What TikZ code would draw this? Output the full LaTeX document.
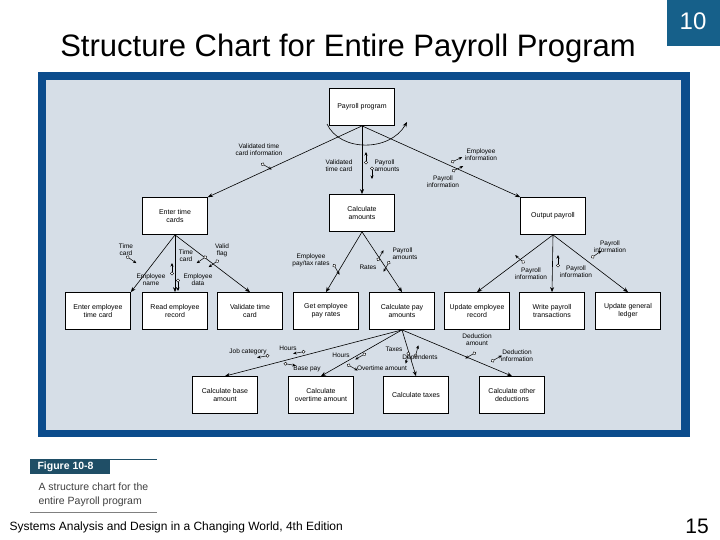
\documentclass[tikz,border=0pt]{standalone}
\usepackage{fontspec}
\setmainfont{Liberation Sans}
\usetikzlibrary{arrows.meta}
\definecolor{panel}{HTML}{D6DEE7}
\definecolor{frame}{HTML}{0B4C8C}
\definecolor{teal}{HTML}{1F4E66}
\definecolor{boxten}{HTML}{16608A}
\tikzset{
 mod/.style={draw=black,fill=white,line width=0.8pt,minimum width=65pt,minimum height=37pt,align=center,font=\fontsize{7}{8}\selectfont,inner sep=1pt},
 link/.style={-{Stealth[length=5pt,width=4pt]},line width=0.6pt},
 lbl/.style={font=\fontsize{6.5}{7}\selectfont,align=center,inner sep=0.5pt},
 pics/cpl/.style={code={\draw[-{Stealth[length=3.5pt,width=3pt]},line width=0.5pt] (0,0) -- (9,0);\draw[fill=white,line width=0.4pt] (-1.5,0) circle (1.6pt);}},
}
\begin{document}
\begin{tikzpicture}[x=1pt,y=-1pt]
\useasboundingbox (0,0) rectangle (720,540);
\fill[white] (0,0) rectangle (720,540);
\node[font=\fontsize{31}{36}\selectfont] (title) at (348,48) {Structure Chart for Entire Payroll Program};
\fill[boxten] (667,0) rectangle (720,46);
\node[white,font=\fontsize{24}{28}\selectfont] (num) at (693,21) {10};
\fill[frame] (38,72) rectangle (690,437);
\fill[panel] (46,80) rectangle (681,430);
% modules
\node[mod] (pp) at (362,107) {Payroll program};
\node[mod] (etc) at (175,216) {Enter time\\cards};
\node[mod] (ca) at (362,213) {Calculate\\amounts};
\node[mod] (op) at (553,216) {Output payroll};
\node[mod] (eetc) at (98,311) {Enter employee\\time card};
\node[mod] (rer) at (175,311) {Read employee\\record};
\node[mod] (vtc) at (250,311) {Validate time\\card};
\node[mod] (gepr) at (326,311) {Get employee\\pay rates};
\node[mod] (cpa) at (402,311) {Calculate pay\\amounts};
\node[mod] (uer) at (477,311) {Update employee\\record};
\node[mod] (wpt) at (552,311) {Write payroll\\transactions};
\node[mod] (ugl) at (628,311) {Update general\\ledger};
\node[mod] (cba) at (225,395) {Calculate base\\amount};
\node[mod] (coa) at (321,395) {Calculate\\overtime amount};
\node[mod] (ct) at (416,395) {Calculate taxes};
\node[mod] (cod) at (512,395) {Calculate other\\deductions};
% connectors
\draw[link] (pp.south) -- (etc.north east);
\draw[link] (pp.south) -- (ca.north);
\draw[link] (pp.south) -- (op.north west);
\draw[link] (etc.south) -- (eetc.north east);
\draw[link] (etc.south) -- (rer.north);
\draw[link] (etc.south) -- (vtc.north);
\draw[link] (ca.south) -- (gepr.north);
\draw[link] (ca.south) -- (cpa.north);
\draw[link] (op.south) -- (uer.north);
\draw[link] (op.south) -- (wpt.north);
\draw[link] (op.south) -- (ugl.north);
\draw[link] (cpa.south) -- (cba.north);
\draw[link] (cpa.south) -- (coa.north);
\draw[link] (cpa.south) -- (ct.north);
\draw[link] (cpa.south) -- (cod.north);
% loop
\coordinate (l1) at (327,124);
\coordinate (l2) at (407,122);
\draw[link] (l1) .. controls (340,152) and (390,152) .. (l2);
% couples
\pic[rotate=-30] at (264,165) {cpl};
\node[lbl] (t1) at (259,150) {Validated time\\card information};
\pic[rotate=90] at (366,161) {cpl};
\node[lbl,align=right] (t2) at (339,166) {Validated\\time card};
\pic[rotate=-90] at (372,170) {cpl};
\node[lbl,align=left] (t3) at (387,166) {Payroll\\amounts};
\pic[rotate=25] at (454,161) {cpl};
\node[lbl] (t4) at (481,155) {Employee\\information};
\pic[rotate=25] at (455,170) {cpl};
\node[lbl] (t5) at (443,182) {Payroll\\information};
\pic[rotate=-35] at (129,258) {cpl};
\node[lbl] (t6) at (126,250) {Time\\card};
\pic[rotate=-145] at (204,258) {cpl};
\node[lbl] (t7) at (186,256) {Time\\card};
\pic[rotate=-145] at (216,262) {cpl};
\node[lbl] (t8) at (222,250) {Valid\\flag};
\pic[rotate=90] at (172,272) {cpl};
\node[lbl] (t9) at (151,280) {Employee\\name};
\pic[rotate=-90] at (178,282) {cpl};
\node[lbl] (t10) at (198,280) {Employee\\data};
\pic[rotate=-60] at (335,267) {cpl};
\node[lbl] (t11) at (311,260) {Employee\\pay/tax rates};
\pic[rotate=60] at (379,258) {cpl};
\node[lbl] (t12) at (368,267) {Rates};
\pic[rotate=-120] at (388,264) {cpl};
\node[lbl,align=left] (t13) at (405,254) {Payroll\\amounts};
\pic[rotate=140] at (522,261) {cpl};
\node[lbl] (t14) at (531,274) {Payroll\\information};
\pic[rotate=90] at (558,264) {cpl};
\node[lbl] (t15) at (576,272) {Payroll\\information};
\pic[rotate=35] at (594,256) {cpl};
\node[lbl] (t16) at (610,247) {Payroll\\information};
\pic[rotate=190] at (266,356) {cpl};
\node[lbl] (t17) at (248,352) {Job category};
\pic[rotate=190] at (302,352) {cpl};
\node[lbl] (t18) at (288,348) {Hours};
\pic[rotate=-10] at (287,364) {cpl};
\node[lbl] (t19) at (307,369) {Base pay};
\pic[rotate=210] at (363,355) {cpl};
\node[lbl] (t20) at (341,355) {Hours};
\pic[rotate=-30] at (350,366) {cpl};
\node[lbl] (t21) at (382,368) {Overtime amount};
\pic[rotate=-105] at (408,355) {cpl};
\node[lbl] (t22) at (394,349) {Taxes};
\pic[rotate=75] at (416,354) {cpl};
\node[lbl] (t23) at (420,358) {Dependents};
\pic[rotate=-150] at (473,354) {cpl};
\node[lbl] (t24) at (477,340) {Deduction\\amount};
\pic[rotate=30] at (494,360) {cpl};
\node[lbl] (t25) at (517,356) {Deduction\\information};
% caption
\draw[teal,line width=0.8pt] (30,459) -- (157,459);
\fill[teal] (30,459) rectangle (110,474);
\node[white,font=\bfseries\fontsize{10.5}{12}\selectfont,anchor=west] (fig) at (34,466.5) {Figure 10-8};
\node[font=\fontsize{10.5}{14}\selectfont,align=left,anchor=north west,text=black!75] (cap) at (35,479) {A structure chart for the\\entire Payroll program};
\draw[gray,line width=0.8pt] (30,512) -- (157,512);
\node[anchor=west,font=\fontsize{12}{14}\selectfont] (foot) at (6,527) {Systems Analysis and Design in a Changing World, 4th Edition};
\node[font=\fontsize{21}{24}\selectfont] (pg) at (697,526) {15};
\end{tikzpicture}
\end{document}
